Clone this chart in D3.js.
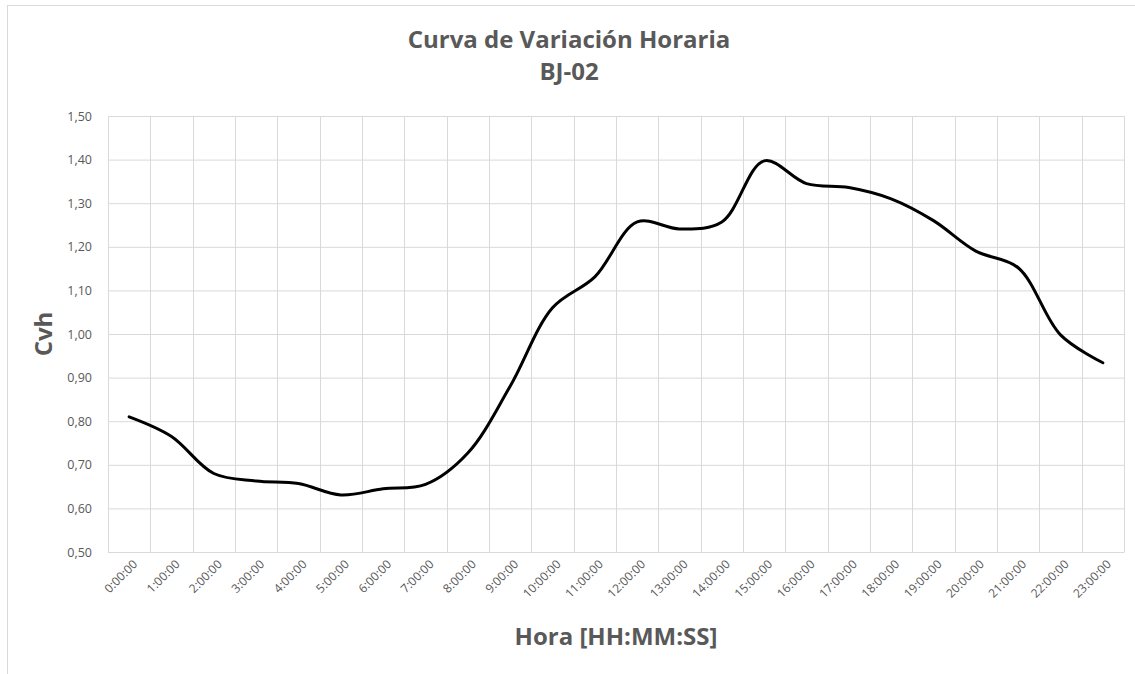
<!DOCTYPE html>
<html>
<head>
<meta charset="utf-8">
<script src="https://cdn.jsdelivr.net/npm/d3@7"></script>
<style>
  html, body { margin: 0; padding: 0; background: #fff; }
  svg { display: block; font-family: "Open Sans", "Noto Sans", sans-serif; }
</style>
</head>
<body>
<div class="chart--container"></div>
<script>
let horas = ['0:00:00', '1:00:00', '2:00:00', '3:00:00', '4:00:00', '5:00:00',
             '6:00:00', '7:00:00', '8:00:00', '9:00:00', '10:00:00', '11:00:00',
             '12:00:00', '13:00:00', '14:00:00', '15:00:00', '16:00:00', '17:00:00',
             '18:00:00', '19:00:00', '20:00:00', '21:00:00', '22:00:00', '23:00:00'],
    cvh = [0.81, 0.765, 0.68, 0.663, 0.657, 0.631, 0.645, 0.655, 0.727, 0.88, 1.06, 1.131,
           1.257, 1.241, 1.257, 1.397, 1.345, 1.336, 1.31, 1.26, 1.19, 1.152, 0.998, 0.934],
    yTicks = [0.5, 0.6, 0.7, 0.8, 0.9, 1.0, 1.1, 1.2, 1.3, 1.4, 1.5],
    titulo = ['Curva de Variación Horaria', 'BJ-02'],
    tituloX = 'Hora [HH:MM:SS]',
    tituloY = 'Cvh';

createChart();

function createChart(){
    let W = 1135, H = 674,
        plot = {l: 108, r: 1124, t: 116, b: 552},
        grid = '#d9d9d9',
        txt = '#595959',
        fmt = d3.formatLocale({decimal: ',', thousands: '.', grouping: [3], currency: ['', '']}).format('.2f'),
        svg = null, scale_x = null, scale_y = null;

    svg = d3.select('.chart--container')
            .append('svg')
            .attr('width', W)
            .attr('height', H);

    // outer chart border
    svg.append('rect')
        .attr('x', 7.5).attr('y', 5.5)
        .attr('width', W + 10).attr('height', H + 10)
        .attr('fill', '#fff')
        .attr('stroke', grid);

    scale_x = d3.scaleBand()
                .domain(horas)
                .range([plot.l, plot.r])
                .padding(0);

    scale_y = d3.scaleLinear()
                .domain([0.5, 1.5])
                .range([plot.b, plot.t]);

    // horizontal gridlines + y labels
    svg.append('g')
        .attr('transform', `translate(${plot.l}, 0)`)
        .call(d3.axisLeft(scale_y)
                .tickValues(yTicks)
                .tickSize(-(plot.r - plot.l))
                .tickPadding(16)
                .tickFormat(fmt))
        .attr('font-family', null)
        .call(g => g.select('.domain').remove())
        .call(g => g.selectAll('.tick line').attr('stroke', grid))
        .call(g => g.selectAll('.tick text')
                    .attr('fill', txt)
                    .style('font-size', '12.5px'));

    // vertical gridlines at category boundaries
    let edges = horas.map(h => scale_x(h)).concat([scale_x.range()[1]]);
    svg.append('g')
        .selectAll('line')
        .data(edges)
        .enter()
        .append('line')
        .attr('x1', d => Math.round(d) + 0.5)
        .attr('x2', d => Math.round(d) + 0.5)
        .attr('y1', plot.t)
        .attr('y2', plot.b)
        .attr('stroke', grid);

    // x-axis labels
    svg.append('g')
        .attr('transform', `translate(0, ${plot.b})`)
        .call(d3.axisBottom(scale_x).tickSize(0).tickPadding(0))
        .attr('font-family', null)
        .call(g => g.select('.domain').attr('stroke', grid))
        .call(g => g.selectAll('.tick text')
                    .attr('fill', txt)
                    .style('font-size', '12px')
                    .attr('text-anchor', 'end')
                    .attr('dy', 0)
                    .attr('transform', 'translate(9, 13) rotate(-45)'));

    // line
    let line = d3.line()
                 .x((d, i) => scale_x(horas[i]) + scale_x.bandwidth() / 2)
                 .y(d => scale_y(d))
                 .curve(d3.curveCatmullRom.alpha(0.5));

    svg.append('path')
        .datum(cvh)
        .attr('d', line)
        .attr('fill', 'none')
        .attr('stroke', '#000')
        .attr('stroke-width', 3)
        .attr('stroke-linecap', 'round')
        .attr('stroke-linejoin', 'round');

    // title
    svg.append('text')
        .attr('x', 569).attr('y', 48)
        .attr('text-anchor', 'middle')
        .attr('fill', txt)
        .style('font-size', '24px')
        .style('font-weight', 700)
        .text(titulo[0]);
    svg.append('text')
        .attr('x', 569).attr('y', 80)
        .attr('text-anchor', 'middle')
        .attr('fill', txt)
        .style('font-size', '24px')
        .style('font-weight', 700)
        .text(titulo[1]);

    // label for x-axis
    svg.append('text')
        .attr('x', 616).attr('y', 645)
        .attr('text-anchor', 'middle')
        .attr('fill', txt)
        .style('font-size', '24px')
        .style('font-weight', 700)
        .text(tituloX);

    // label for y-axis
    svg.append('text')
        .attr('transform', `translate(52, ${(plot.t + plot.b) / 2}) rotate(-90)`)
        .attr('text-anchor', 'middle')
        .attr('fill', txt)
        .style('font-size', '24px')
        .style('font-weight', 700)
        .text(tituloY);
}
</script>
</body>
</html>
